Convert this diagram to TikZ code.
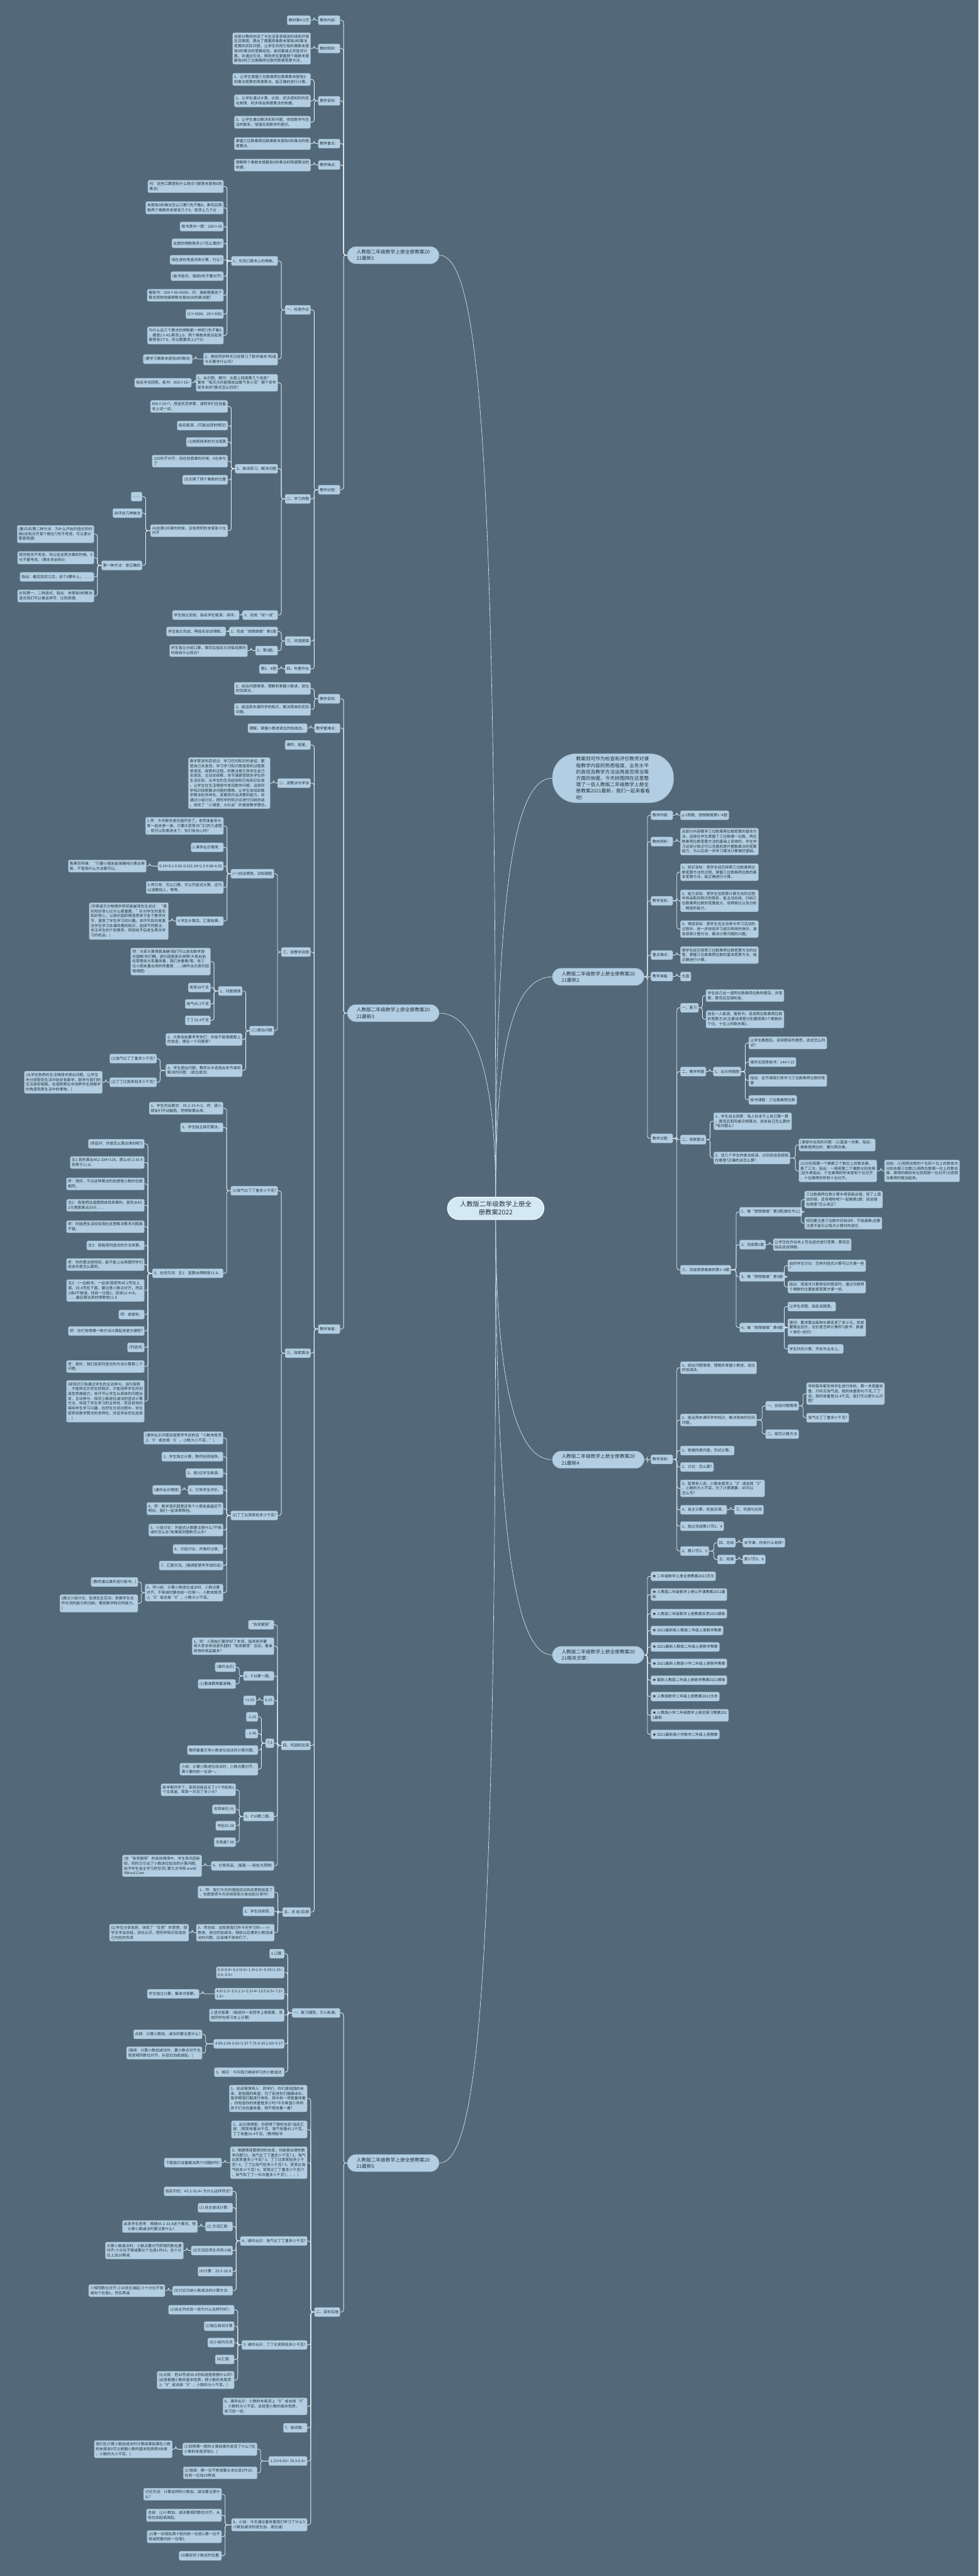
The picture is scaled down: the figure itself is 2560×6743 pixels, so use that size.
\documentclass[tikz,border=0pt]{standalone}
\usepackage{fontspec}
\newfontfamily\cjk{Noto Sans CJK SC}
\definecolor{bgcol}{HTML}{536979}
\definecolor{boxcol}{HTML}{B3CEE2}
\definecolor{edgecol}{HTML}{93B1C7}
\definecolor{txtcol}{HTML}{24323D}
\definecolor{linecol}{HTML}{E4EEF5}
\definecolor{rootcol}{HTML}{D3E9F4}
\begin{document}
\begin{tikzpicture}[x=1pt,y=-1pt,
  nd/.style={rectangle,rounded corners=3pt,fill=boxcol,draw=edgecol,line width=0.6pt,text=txtcol,align=left,
    inner xsep=4pt,inner ysep=5pt,minimum height=24pt,font=\cjk\fontsize{9.8}{12.7}\selectfont},
  lb/.style={nd,anchor=east},
  rb/.style={nd,anchor=west},
  topic/.style={nd,rounded corners=22pt,inner xsep=24pt,inner ysep=8pt,font=\cjk\fontsize{12.7}{17}\selectfont},
  root/.style={nd,fill=rootcol,draw=white,line width=1.5pt,rounded corners=30pt,align=center,
    inner xsep=33pt,inner ysep=11pt,font=\cjk\fontsize{17}{21}\selectfont},
  lnk/.style={draw=linecol,line width=1.4pt,rounded corners=6pt},
  clnk/.style={draw=linecol,line width=1pt}]
\fill[bgcol] (0,0) rectangle (2560,6743);
\useasboundingbox (0,0) rectangle (2560,6743);

% centre and main topics
\node[root] (ctr) at (1297,3163) {人教版二年级数学上册全\\册教案2022};
\node[topic,anchor=west,rounded corners=62pt,inner xsep=62pt,font=\cjk\fontsize{12.7}{16.8}\selectfont] (intro) at (1445,2037)
  {教案则可作为检查和评价教师对课\\程教学内容的熟悉程度、业务水平\\的高低及教学方法运用是否得当等\\方面的依据，今天树图网在这里整\\理了一些人教版二年级数学上册全\\册教案2021最新，我们一起来看看\\吧!};
\node[topic,anchor=east] (b1) at (1149,668) {人教版二年级数学上册全册教案20\\21最新1};
\node[topic,anchor=west] (b2) at (1445,2557) {人教版二年级数学上册全册教案20\\21最新2};
\node[topic,anchor=east] (b3) at (1149,2652) {人教版二年级数学上册全册教案20\\21最新3};
\node[topic,anchor=west] (b4) at (1445,3821) {人教版二年级数学上册全册教案20\\21最新4};
\node[topic,anchor=east] (b5) at (1149,5662) {人教版二年级数学上册全册教案20\\21最新5};
\node[topic,anchor=west] (b6) at (1445,4332) {人教版二年级数学上册全册教案20\\21相关文章：};

\draw[clnk] (ctr.north) .. controls +(0,-1900) and +(110,0) .. (b1.east);
\draw[clnk] (ctr.north) .. controls +(0,-300) and +(100,0) .. (b3.east);
\draw[clnk] (ctr.south) .. controls +(0,1900) and +(110,0) .. (b5.east);
\draw[clnk] (ctr.north) .. controls +(0,-800) and +(-100,0) .. (intro.west);
\draw[clnk] (ctr.north) .. controls +(0,-400) and +(-100,0) .. (b2.west);
\draw[clnk] (ctr.south) .. controls +(0,400) and +(-100,0) .. (b4.west);
\draw[clnk] (ctr.south) .. controls +(0,800) and +(-100,0) .. (b6.west);

% ---- branch 1
\node[lb] (b1a) at (890,53) {教学内容：};
\node[lb] (b1b) at (890,127) {教材简析：};
\node[lb] (b1c) at (890,264) {教学目标：};
\node[lb] (b1d) at (890,376) {教学重点：};
\node[lb] (b1e) at (890,432) {教学难点：};
\node[lb] (b1f) at (890,1282) {教学过程：};
\node[lb] (b1a1) at (813,53) {教材第4-5页};
\node[lb] (b1b1) at (813,127) {这部分教材创设了与生活息息相关的绿色环保\\生活情境，提出了需要用乘数末尾有0的乘法\\笔算的实际问题，让学生利用已有的乘数末尾\\有0的乘法的笔算经验，尝试着独立列竖式计\\算，并通过交流，帮助学生掌握两个乘数末尾\\都有0的三位数乘两位数的简便笔算方法。};
\node[lb] (b1c1) at (813,208) {1、让学生掌握三位数乘两位数乘数末尾有0\\的乘法笔算的简便算法，能正确的进行计算。};
\node[lb] (b1c2) at (813,264) {2、让学生通过计算、比较，初步感知积的变\\化规律，初步体会简便算法的依据。};
\node[lb] (b1c3) at (813,320) {3、让学生通过解决实际问题，体验数学与生\\活的联系，增强应用数学的意识。};
\node[lb] (b1d1) at (813,376) {掌握三位数乘两位数乘数末尾有0的乘法的简\\便算法。};
\node[lb] (b1e1) at (813,432) {理解两个乘数末尾都有0的乘法的简便算法的\\依据。};
\node[lb] (b1f1) at (813,811) {一、检查作业};
\node[lb] (b1f2) at (813,1306) {二、学习例题};
\node[lb] (b1f3) at (813,1678) {三、巩固提高};
\node[lb] (b1f4) at (813,1751) {四、布置作业};
\node[lb] (b1f1a) at (727,683) {1、交流口算本上的得数。};
\node[lb] (b1f1b) at (727,940) {2、哪些同学昨天已经预习了数学课本?知道\\今天要学什么吗?};
\node[lb] (b1f1a1) at (585,488) {问：这些口算题有什么特点?(都是末尾有0的\\乘法)};
\node[lb] (b1f1a2) at (585,544) {末尾有0的乘法怎么口算?(先不看0，乘完后再\\数两个乘数的末尾有几个0，就添上几个0)};
\node[lb] (b1f1a3) at (585,593) {板书其中一题：200×43};
\node[lb] (b1f1a4) at (585,637) {这题的得数是多少?怎么算的?};
\node[lb] (b1f1a5) at (585,680) {现在请你用竖式来计算，行么?};
\node[lb] (b1f1a6) at (585,723) {(板书竖式，强调0先不要对齐)};
\node[lb] (b1f1a7) at (585,773) {看板书：200×43=8600，问：谁能根据这个\\算式很快地编得数也是8600的乘法题?};
\node[lb] (b1f1a8) at (585,822) {(2×4300，20×430)};
\node[lb] (b1f1a9) at (585,878) {为什么这三个算式的得数都一样呢?(先不看0\\，都是2×43;再添上0，两个乘数末尾合起来\\都是有2个0，所以都要添上2个0)};
\node[lb] (b1f1b1) at (503,940) {(要学习乘数末尾有0的乘法)};
\node[lb] (b1f2a) at (727,1002) {1、出示图，提问：从图上知道哪几个信息?\\要求“每天大约能释放出氧气多少克”哪个条件\\是多余的?算式怎么列式?};
\node[lb] (b1f2b) at (727,1227) {2、尝试练习，解决问题};
\node[lb] (b1f2c) at (727,1610) {3、完成“试一试”};
\node[lb] (b1f2a1) at (501,1002) {指名学生回答，板书：850×15=};
\node[lb] (b1f2b1) at (596,1064) {850×15=?，用竖式怎样算，请同学们在自备\\本上试一试。};
\node[lb] (b1f2b2) at (596,1114) {指名板演，(可能出现的情况)};
\node[lb] (b1f2b3) at (596,1157) {(1)按照原来的方法笔算};
\node[lb] (b1f2b4) at (596,1207) {(2)0先不对齐，但在前面乘的时候，0也参与\\了};
\node[lb] (b1f2b5) at (596,1256) {(3)交换了两个乘数的位置};
\node[lb] (b1f2b6) at (596,1389) {(4)在第2步乘的时候，没有把积的末尾和十位\\对齐};
\node[lb] (b1f2b6a) at (372,1300) {……};
\node[lb] (b1f2b6b) at (372,1343) {讲评这几种做法};
\node[lb] (b1f2b6c) at (372,1480) {第一种方法：是正确的};
\node[lb] (b1f2b6c1) at (246,1398) {(重点讲)第二种方法：为什么开始列竖式的时\\候0没有对齐某个数位?(先不考虑，可以使计\\算更简便)};
\node[lb] (b1f2b6c2) at (246,1460) {既然是先不考虑，所以在这两次乘的时候，0\\也不要考虑。(擦去多余的0)};
\node[lb] (b1f2b6c3) at (246,1510) {指出：最后加完之后，这个0要补上。 ……};
\node[lb] (b1f2b6c4) at (246,1560) {比较第一、二种竖式，指出：末尾有0的乘法\\竖式我们可以像这样写，比较简便。};
\node[lb] (b1f2c1) at (626,1610) {学生独立完成，指名学生板演，讲评。};
\node[lb] (b1f3a) at (727,1653) {1、完成“想想做做”第1题};
\node[lb] (b1f3b) at (727,1703) {2、第3题。};
\node[lb] (b1f3a1) at (591,1653) {学生独立完成，再指名说说得数。};
\node[lb] (b1f3b1) at (648,1703) {学生独立分组口算，算完后指名交流每组算的\\时候有什么特点?};
\node[lb] (b1f4a) at (727,1751) {第2、4题};

% ---- branch 3
\node[lb] (b3a) at (890,1829) {教学目标：};
\node[lb] (b3b) at (890,1906) {教学重难点：};
\node[lb] (b3c) at (890,3479) {教学准备：};
\node[lb] (b3a1) at (813,1802) {1、结合问题情境，理解和掌握小数进、退位\\的加减法。};
\node[lb] (b3a2) at (813,1857) {2、能运用本课所学的知识，解决简单的实际\\问题。};
\node[lb] (b3b1) at (804,1906) {理解、掌握小数进退位的加减法。};
\node[lb] (b3c1) at (813,1950) {课件、星星。};
\node[lb] (b3c2) at (813,2050) {二、说教法与学法};
\node[lb] (b3c3) at (813,2492) {三、说教学流程};
\node[lb] (b3c4) at (813,3542) {三、探索算法};
\node[lb] (b3c5) at (813,4569) {四、巩固和应用};
\node[lb] (b3c6) at (813,5005) {五、总 结 回 顾};
\node[lb] (b3c2a) at (707,2050) {数学家波利亚说过：学习任何知识的途径，都\\是自己去发现。学习学习知识是接受的过程更\\是发现、探索的过程。的教法是引导学生自己\\去发现、主动去探索。本节课紧密联系学生的\\生活实际，从学生的生活经验和已有知识出发\\，让学生在生活情境中发现数学问题，运用所\\学知识探索解决问题的策略，让学生体验到数\\学算法的多样化，发展其作出决策的能力。并\\通过小组讨论，把所学的知识点进行归纳总结\\。体现了“小课堂，大社会”的课堂教学理念。};
\node[lb] (b3c3a) at (717,2287) {(一)创设情境，旧知铺垫};
\node[lb] (b3c3b) at (717,2698) {(二)提出问题};
\node[lb] (b3c3a1) at (585,2162) {1.师：今天数学游乐园开张了。老师准备带大\\家一起去游一游。只要大家答对门口的几道题\\，就可以免费进去了，你们有信心吗?};
\node[lb] (b3c3a2) at (585,2218) {2.课件出示情境：};
\node[lb] (b3c3a3) at (585,2267) {0.24+0.1 0.82-0.321.54+2.3 9.88-4.32};
\node[lb] (b3c3a4) at (585,2323) {3.师引导：可以口算，可以列竖式计算、还可\\以请教别人，等等。};
\node[lb] (b3c3a5) at (585,2411) {4.学生计算后、汇报结果。};
\node[lb] (b3c3a3a) at (383,2267) {售票员阿姨：“只要小朋友能准确地计算出得\\数，不管用什么方法都可以。};
\node[lb] (b3c3a5a) at (441,2411) {(华裔诺贝尔物理学获奖者崔琦先生说过：“喜\\欢和好奇心比什么都重要。”针对学生的喜欢\\和好奇心，以游乐园的情境贯穿于各个教学环\\节，激发了学生学习的兴趣。本环节目的是激\\活学生学习本课所需的知识，选择不同算法，\\关注学生的个别差异，特别给予后进生再次学\\习的机会。)};
\node[lb] (b3c3b1) at (634,2594) {1、问题情境};
\node[lb] (b3c3b2) at (634,2721) {2、大象伯伯要考考你们：你能不能根据图上\\的信息，提出一个问题呢?};
\node[lb] (b3c3b3) at (634,2802) {3、学生提出问题，教师从中选择出本节课将\\解决的问题：(退位减法)};
\node[lb] (b3c3b1a) at (551,2517) {师：大家计算得真准确!我们可以进去数学游\\乐园喽!你们瞧，游乐园里真乐闹啊!大象伯伯\\在那里给大家量体重，我们去看看!哦，有三\\位小朋友量出来的体重是……(课件出示游乐园\\情境图)};
\node[lb] (b3c3b1b) at (551,2585) {笑笑38千克};
\node[lb] (b3c3b1c) at (551,2628) {淘气45.2千克};
\node[lb] (b3c3b1d) at (551,2671) {丁丁33.4千克};
\node[lb] (b3c3b3a) at (410,2771) {(1)淘气比丁丁重多少千克?};
\node[lb] (b3c3b3b) at (410,2833) {(2)丁丁比笑笑轻多少千克?};
\node[lb] (b3c3b3b1) at (268,2833) {(从学生熟悉的生活情境中提出问题，让学生\\充分感受到生活中处处有数学，数学与我们的\\生活紧密相联。在潜移默化中培养学生用数学\\的角度观察生活中的事物。)};
\node[lb] (b3c4a) at (727,3117) {(1)淘气比丁丁重多少千克?};
\node[lb] (b3c4b) at (727,3967) {(2)丁丁比笑笑轻多少千克?};
\node[lb] (b3c4a1) at (584,2901) {1、学生列出算式：45.2-33.4=2、师：请小\\朋友们开动脑筋，把得数算出来。};
\node[lb] (b3c4a2) at (584,2951) {2、学生独立探究算法。};
\node[lb] (b3c4a3) at (584,3333) {3、全班交流：生1：我算出得数是11.8。};
\node[lb] (b3c4a3a) at (378,2994) {(师追问：你是怎么算出来的呢?)};
\node[lb] (b3c4a3b) at (378,3043) {生1:我先算出452-334=118，那么45.2-33.4\\就等于11.8。};
\node[lb] (b3c4a3c) at (378,3099) {师：很好，不过这种算法的前提是小数的位数\\相同。};
\node[lb] (b3c4a3d) at (378,3155) {生2：我是把这道题想成找来算的。我先从45.\\2元里面拿出33元……};
\node[lb] (b3c4a3e) at (378,3211) {师：你能把生活经验用在这里解决算术问题真\\不错。};
\node[lb] (b3c4a3f) at (378,3260) {生3：我能用列竖式的方法来算。};
\node[lb] (b3c4a3g) at (378,3310) {师：你的算法很特别，能不能上台来跟同学们\\说说你是怎么算的。};
\node[lb] (b3c4a3h) at (378,3378) {生3：(一边板书，一边讲)我把先45.2写在上\\面，33.4写在下面，要注意小数点对齐，然后\\2减4不够减，找前一位借1，变成12-4=8，\\……最后算出来的得数是11.8};
\node[lb] (b3c4a3i) at (378,3441) {师：谢谢你。};
\node[lb] (b3c4a3j) at (378,3484) {师：你们觉得哪一种方法计算起来更方便呢?};
\node[lb] (b3c4a3k) at (378,3527) {(列竖式)};
\node[lb] (b3c4a3l) at (378,3577) {师：那好，我们就用列竖式的方法计算第二个\\问题。};
\node[lb] (b3c4a3m) at (378,3668) {(新知识只有通过学生的主动参与，自行探索\\，才能转化为学生的知识，才能培养学生的创\\造性思维能力。本环节让学生从具体的问题出\\发，主动参与，探究小数退位减法的竖式计算\\方法，体现了学生学习的主体性，而且有效的\\保持学生学习兴趣，在师生交流过程中，学生\\感受到数学算法的多样化，并且学会优化选择\\。)};
\node[lb] (b3c4b1) at (584,3764) {(课件出示问题及智慧爷爷说的话“小数末尾添\\上‘0’或去掉‘0’，小数大小不变。”)};
\node[lb] (b3c4b2) at (584,3813) {1、学生独立计算，教师巡视指导。};
\node[lb] (b3c4b3) at (584,3856) {2、请2位学生板演。};
\node[lb] (b3c4b4) at (584,3900) {3、引导学生评价。};
\node[lb] (b3c4b5) at (584,3949) {4、师：数学游乐园里还有个小朋友晶晶还不\\明白，我们一起来帮帮他。};
\node[lb] (b3c4b6) at (584,4005) {5、小组讨论：列竖式计算要注意什么?不够\\减时怎么办?如果碰到整数怎么办?};
\node[lb] (b3c4b7) at (584,4055) {6、分组讨论，并做好记录。};
\node[lb] (b3c4b8) at (584,4098) {7、汇报交流。(强调智慧爷爷说的话)};
\node[lb] (b3c4b9) at (584,4169) {8、师小结：计算小数退位减法时，小数点要\\对齐，不够减时要向前一位借一。小数末尾添\\上“0”或去掉“0”，小数大小不变。};
\node[lb] (b3c4b4a) at (473,3900) {(课件出示情境)};
\node[lb] (b3c4b9a) at (361,4141) {(教师通过课件进行板书。)};
\node[lb] (b3c4b9b) at (361,4197) {(通过小组讨论，促进生生互动，发展学生合\\作交流的能力和归纳、概括数学知识的能力。\\)};
\node[lb] (b3c5a) at (717,4253) {“有奖解答”};
\node[lb] (b3c5b) at (717,4309) {1、师：小朋友们都学好了本领，接来老师要\\带大家去参加游乐园的“有奖解答”活动，看谁\\获得的奖品最多?};
\node[lb] (b3c5c) at (717,4387) {2、P16第一题。};
\node[lb] (b3c5d) at (717,4451) {8.25};
\node[lb] (b3c5e) at (717,4563) {7.3};
\node[lb] (b3c5f) at (717,4755) {3、P16第二题。};
\node[lb] (b3c5g) at (717,4884) {4、分发奖品。(星星——贴在光荣榜)};
\node[lb] (b3c5c1) at (617,4364) {(课件出示)};
\node[lb] (b3c5c2) at (617,4408) {(1)看谁算得最准确。};
\node[lb] (b3c5d1) at (670,4451) {+1.55};
\node[lb] (b3c5e1) at (675,4494) {-2.25};
\node[lb] (b3c5e2) at (675,4538) {- 2.45};
\node[lb] (b3c5e3) at (675,4581) {教师着重引导小数进位加法的计算问题。};
\node[lb] (b3c5e4) at (675,4631) {小结：计算小数进位加法时，小数点要对齐，\\满十要向前一位进一。};
\node[lb] (b3c5f1) at (617,4685) {新学期开学了，笑笑到商店买了1个书包和1\\个文具盒，笑笑一共花了多少元?};
\node[lb] (b3c5f2) at (617,4736) {名称单价/元};
\node[lb] (b3c5f3) at (617,4779) {书包32.50};
\node[lb] (b3c5f4) at (617,4822) {文具盒7.60};
\node[lb] (b3c5g1) at (528,4884) {(在“有奖解答”的具体情境中，学生既巩固新\\知，同时又引出了小数进位加法的计算问题。\\给予学生自主学习的空间) 第九文书网 wwW.\\9Word.Com};
\node[lb] (b3c6a) at (718,4953) {1、师：我们今天的游园活动到这里就结束了\\，你愿意把今天的收获和大象伯伯分享吗?};
\node[lb] (b3c6b) at (718,5003) {2、学生谈收获。};
\node[lb] (b3c6c) at (718,5059) {3、师总结：这就是我们所今天学习的——小\\数进、退位的加减法。相信以后遇到小数加减\\法的问题，应该难不倒你们了。};
\node[lb] (b3c6c1) at (494,5059) {(让学生分享收获，体现了“反思”的思想，使\\学生学会总结，深化认识，把所学知识变成自\\己内在的东西};

% ---- branch 5
\node[lb] (b5a) at (890,5269) {一、复习铺垫，引入新课。};
\node[lb] (b5b) at (890,6052) {二、目标实施};
\node[lb] (b5a1) at (744,5114) {1.口算.};
\node[lb] (b5a2) at (744,5163) {0.3+0.4= 0.2+0.6= 1.4+1.5= 0.33+1.25=\\0.9- 0.5=};
\node[lb] (b5a3) at (744,5219) {4.8+2.2= 3.5-2.1= 5.5+4= 19.5-0.5= 7.2+\\1.6=};
\node[lb] (b5a4) at (744,5275) {2.竖式板算：(每组叫一名同学上黑板算，其\\他同学在练习本上计算)};
\node[lb] (b5a5) at (744,5350) {4.89-2.64 3.61+1.37 7.75-6.35 2.82+3.17};
\node[lb] (b5a6) at (744,5424) {3、揭示：今天我们继续学习的小数减法.};
\node[lb] (b5a3a) at (521,5219) {学生独立计算，集体对答案。};
\node[lb] (b5a5a) at (529,5325) {点拨：计算小数加、减法时要注意什么?};
\node[lb] (b5a5b) at (529,5374) {(强调：计算小数加减法时，要小数点对齐也\\就是相同数位对齐，从低位加或减起。)};
\node[lb] (b5b1) at (804,5493) {1、创设情境导入：同学们，你们是祖国的未\\来、是祖国的希望，为了促进你们健康成长，\\每学期我们都进行体检，其中有一项是量体重\\。你知道你的体重是多少吗?今天希望小学的\\孩子们也在量体重，想不想去看一看?};
\node[lb] (b5b2) at (804,5574) {2、出示情境图：你获得了哪些信息?指名汇\\报：(笑笑体重38千克、淘气体重45.2千克、\\丁丁体重33.4千克。)教师板书};
\node[lb] (b5b3) at (804,5661) {3、根据情境图提供的信息，你能提出哪些数\\学问题?(1、淘气比丁丁重多少千克? 2、淘气\\比笑笑重多少千克? 3、丁丁比笑笑轻多少千\\克? 4、丁丁比淘气轻多少千克? 5、笑笑比淘\\气轻多少千克? 6、笑笑比丁丁重多少千克?7\\、淘气和丁丁一共共重多少千克?。。。)};
\node[lb] (b5b4) at (804,5866) {4、课件出示：淘气比丁丁重多少千克?};
\node[lb] (b5b5) at (804,6138) {5. 课件出示：丁丁比笑笑轻多少千克?};
\node[lb] (b5b6) at (804,6299) {6、课件出示：小数的末尾添上“0”或去掉“0”\\，小数的大小不变。这就是小数的基本性质，\\练习说一说。};
\node[lb] (b5b7) at (804,6355) {7、尝试做：};
\node[lb] (b5b8) at (804,6442) {1.25+6.05= 78.3-6.9=};
\node[lb] (b5b9) at (804,6609) {8、小结：今天通过量体重我们学习了什么?(\\小数加减法的进位加、退位减)};
\node[lb] (b5b3a) at (580,5661) {下面我们试着解决两个问题好吗?};
\node[lb] (b5b4a) at (609,5736) {指名列式：45.2-33.4= 为什么这样列式?};
\node[lb] (b5b4b) at (609,5779) {(1) 自主尝试计算：};
\node[lb] (b5b4c) at (609,5828) {(2) 交流汇报：};
\node[lb] (b5b4d) at (609,5891) {(3)交流后师生共同小结};
\node[lb] (b5b4e) at (609,5946) {(4)计算：23.5-16.8};
\node[lb] (b5b4f) at (609,5996) {(5)讨论归纳小数减法的计算方法：};
\node[lb] (b5b4c1) at (517,5828) {启发学生思考：根据45.2-33.4这个算式，想\\：计算小数减法时要注意什么?};
\node[lb] (b5b4d1) at (480,5891) {计算小数减法时，小数点要对齐即相同数位要\\对齐;十分位不够减要从个位退1作10，在十分\\位上加10再减.};
\node[lb] (b5b4f1) at (432,5996) {①相同数位对齐;②从低位减起;③十分位不够\\减向个位借1，然后再减.};
\node[lb] (b5b5a) at (613,6046) {(1)自主列式说一说为什么这样列式?。};
\node[lb] (b5b5b) at (613,6089) {(2)独立尝试计算};
\node[lb] (b5b5c) at (613,6132) {(3)小组内交流};
\node[lb] (b5b5d) at (613,6176) {(4)汇报：};
\node[lb] (b5b5e) at (613,6230) {(5)点拨：把38写成38.0你知道是根据什么吗?\\(这是根据小数的基本性质，即小数的末尾添\\上“0”或去掉“0”，小数的大小不变。)};
\node[lb] (b5b8a) at (673,6411) {(1)观察第一题的计算结果你发现了什么?(在\\小数的末尾添有0。)};
\node[lb] (b5b8b) at (673,6473) {(2)强调：哪一位不够减要从本位退1作10，\\在前一位加10再减.};
\node[lb] (b5b8a1) at (451,6411) {我们在计算小数加减法时计算结果如果在小数\\的末尾有0可以根据小数的基本性质把0去掉\\，小数的大小不变。)};
\node[lb] (b5b9a) at (580,6529) {讨论交流：计算这样的小数加、减法要注意什\\么?};
\node[lb] (b5b9b) at (580,6584) {总结：(1)小数加、减法要相同数位对齐，从\\低位加起或减起;};
\node[lb] (b5b9c) at (580,6640) {(2)哪一位相加满十就向前一位进1;哪一位不\\够减就要向前一位借1;};
\node[lb] (b5b9d) at (580,6690) {(3)确定好小数点的位置.};

% ---- branch 2
\node[rb] (b2a) at (1703,2134) {教学内容：};
\node[rb] (b2b) at (1703,2203) {教材简析：};
\node[rb] (b2c) at (1703,2358) {教学目标：};
\node[rb] (b2d) at (1703,2500) {重点难点：};
\node[rb] (b2e) at (1703,2556) {教学准备：};
\node[rb] (b2f) at (1703,2980) {教学过程：};
\node[rb] (b2a1) at (1780,2134) {p.1例题，想想做做第1\textasciitilde4题};
\node[rb] (b2b1) at (1780,2203) {这部分内容教学三位数乘两位数笔算的基本方\\法。这是在学生掌握了三位数乘一位数、两位\\数乘两位数笔算方法的基础上安排的，学生学\\习这部分知识可以完善和提升整数乘法的笔算\\能力，为以后进一步学习乘法计算做好基础。};
\node[rb] (b2c1) at (1780,2283) {1、知识目标：使学生经历探索三位数乘两位\\数笔算方法的过程，掌握三位数乘两位数的基\\本笔算方法，能正确进行计算。};
\node[rb] (b2c2) at (1780,2358) {2、能力目标：使学生在探索计算方法的过程\\中体会新旧知识的联系，能主动总结、归纳三\\位数乘两位数的笔算放大，培养类比以及分析\\、概括的能力。};
\node[rb] (b2c3) at (1780,2432) {3、情感目标：使学生在主动参与学习活动的\\过程中，进一步体验学习成功带来的快乐，激\\发探索计算方法、解决计算问题的兴趣。};
\node[rb] (b2d1) at (1780,2500) {使学生经历探索三位数乘两位数笔算方法的过\\程，掌握三位数乘两位数的基本笔算方法，能\\正确进行计算。};
\node[rb] (b2e1) at (1780,2556) {光盘};
\node[rb] (b2f1) at (1780,2638) {一、复习};
\node[rb] (b2f2) at (1780,2805) {二、教学例题};
\node[rb] (b2f3) at (1780,2983) {二、探索算法};
\node[rb] (b2f4) at (1780,3324) {三、完成想想做做的第1\textasciitilde4题};
\node[rb] (b2f1a) at (1847,2606) {学生自己出一道两位数乘两位数的题目，并笔\\算。算完后互相检查。};
\node[rb] (b2f1b) at (1847,2668) {指名一人板演，看板书，说说两位数乘两位数\\的笔算方法(主要说清楚分别要用第2个乘数的\\个位、十位上的数去乘)。};
\node[rb] (b2f2a) at (1866,2805) {1、出示例题图};
\node[rb] (b2f2a1) at (1959,2730) {让学生看图后，读读题目的意思，说说怎么列\\式?};
\node[rb] (b2f2a2) at (1959,2780) {随学生回答板书：144×15};
\node[rb] (b2f2a3) at (1959,2828) {指出：这节课我们来学习三位数乘两位数的笔\\算};
\node[rb] (b2f2a4) at (1959,2879) {板书课题：三位数乘两位数};
\node[rb] (b2f3a) at (1867,2935) {1、学生自主探索：每人在本子上自己算一算\\，算完后和同桌交换算法，说说自己怎么算的\\?有问题么?};
\node[rb] (b2f3b) at (1867,3031) {2、找几个学生的做法板演，分别说说各题错\\在哪里?正确的该怎么算?};
\node[rb] (b2f3b1) at (2090,2997) {[课堂中出现的问题：(1)直接一次乘，指出：\\乘数是两位的，要分两次乘。};
\node[rb] (b2f3b2) at (2090,3065) {(2)分别用第一个乘数三个数位上的数去乘，\\乘了三次，指出：一般用第二个乘数分别去乘\\]另外再指出：个位乘得的积末尾和个位对齐\\，十位乘得的积和十位对齐。};
\node[rb] (b2f3b2a) at (2314,3065) {总结：(1)用两位数的个位和十位上的数依次\\分别去乘三位数(2)用两位数哪一位上的数去\\乘，乘得的数的末位就和那一位对齐(3)把两\\次乘得的数加起来。};
\node[rb] (b2f4a) at (1935,3172) {1、做“想想做做”第2题(做在书上)};
\node[rb] (b2f4b) at (1935,3258) {2、完成第1题};
\node[rb] (b2f4c) at (1935,3342) {3、做“想想做做”第3题};
\node[rb] (b2f4d) at (1935,3475) {4、做“想想做做”第4题};
\node[rb] (b2f4a1) at (2105,3140) {三位数乘两位数计算中很容易出错，除了上面\\说的错，还有哪些呢?一起看第2题：说说错\\在哪里?怎么改正?};
\node[rb] (b2f4a2) at (2105,3202) {特别要注意三位数中间有0时，不能漏乘;还要\\注意不能忘记每次计算时的进位.};
\node[rb] (b2f4b1) at (2023,3258) {让学生在作业本上写出竖式进行笔算，算完后\\指名说说得数。};
\node[rb] (b2f4c1) at (2061,3313) {组织学生讨论：怎样列竖式计算可以方便一些\\?};
\node[rb] (b2f4c2) at (2061,3369) {指出：用竖式计算类似的题目时，通过交换两\\个乘数的位置能使笔算方便一些。};
\node[rb] (b2f4d1) at (2061,3420) {让学生读题，指名说题意。};
\node[rb] (b2f4d2) at (2061,3475) {提问：要求算出每种水果各卖了多少元，就是\\要算出总价，总价是怎样计算的?(板书：数量\\×单价=总价)};
\node[rb] (b2f4d3) at (2061,3531) {学生列式计算，写在作业本上。};

% ---- branch 4
\node[rb] (b4a) at (1703,3820) {教学目标：};
\node[rb] (b4a1) at (1780,3580) {1、结合问题情境，理解并掌握小数进、退位\\的加减法。};
\node[rb] (b4a2) at (1780,3717) {2、能运用本课所学的知识，解决简单的实际\\问题。};
\node[rb] (b4a3) at (1780,3797) {1、根据所提问题，列式计算。};
\node[rb] (b4a4) at (1780,3840) {2、讨论：怎么算?};
\node[rb] (b4a5) at (1780,3896) {3、智慧老人说，小数末尾添上“0”或去掉“0”\\，小数的大小不变。为了计算需要，45可以\\怎么写?};
\node[rb] (b4a6) at (1780,3952) {4、自主计算，检查反馈。};
\node[rb] (b4a7) at (1780,3995) {1、独立完成第17页1、4};
\node[rb] (b4a8) at (1780,4060) {2、第17页2、5};
\node[rb] (b4a2a) at (2003,3680) {一、创设问题情境};
\node[rb] (b4a2b) at (2003,3754) {二、探究计算方法};
\node[rb] (b4a2a1) at (2110,3648) {学校每年都安排学生进行体检，第一关是量体\\重，只听见淘气说，我的体重是45千克;丁丁\\说，我的体重是33.4千克。我们可以提什么问\\题?};
\node[rb] (b4a2a2) at (2110,3711) {淘气比丁丁重多少千克?};
\node[rb] (b4a6a) at (1921,3952) {三、巩固与应用};
\node[rb] (b4a8a) at (1877,4038) {四、总结};
\node[rb] (b4a8b) at (1877,4082) {五、拓展};
\node[rb] (b4a8a1) at (1943,4038) {本节课，你有什么收获?};
\node[rb] (b4a8b1) at (1943,4082) {第17页3、6};

% ---- branch 6
\node[rb] (b6a) at (1703,4126) {★ 二年级数学上册全册教案2021范文};
\node[rb] (b6b) at (1703,4174) {★ 人教版二年级数学上册公开课教案2021最\\新};
\node[rb] (b6c) at (1703,4224) {★ 人教版二年级数学上册教案反思2021模板};
\node[rb] (b6d) at (1703,4268) {★ 2021最新新人教版二年级上册数学教案};
\node[rb] (b6e) at (1703,4311) {★ 2021最新人教版二年级上册数学教案};
\node[rb] (b6f) at (1703,4354) {★ 2021最新人教版小学二年级上册数学教案};
\node[rb] (b6g) at (1703,4398) {★ 最新人教版二年级上册数学教案2021模板};
\node[rb] (b6h) at (1703,4441) {★ 人教版数学二年级上册教案2021文本};
\node[rb] (b6i) at (1703,4490) {★ 人教版小学二年级数学上册总复习教案202\\1最新};
\node[rb] (b6j) at (1703,4540) {★ 2021最新版小学数学二年级上册教案};

% links, left side
\foreach \p/\c in {b1/b1a,b1/b1b,b1/b1c,b1/b1d,b1/b1e,b1/b1f,
  b1a/b1a1,b1b/b1b1,b1c/b1c1,b1c/b1c2,b1c/b1c3,b1d/b1d1,b1e/b1e1,
  b1f/b1f1,b1f/b1f2,b1f/b1f3,b1f/b1f4,b1f1/b1f1a,b1f1/b1f1b,
  b1f1a/b1f1a1,b1f1a/b1f1a2,b1f1a/b1f1a3,b1f1a/b1f1a4,b1f1a/b1f1a5,b1f1a/b1f1a6,b1f1a/b1f1a7,b1f1a/b1f1a8,b1f1a/b1f1a9,
  b1f1b/b1f1b1,b1f2/b1f2a,b1f2/b1f2b,b1f2/b1f2c,b1f2a/b1f2a1,
  b1f2b/b1f2b1,b1f2b/b1f2b2,b1f2b/b1f2b3,b1f2b/b1f2b4,b1f2b/b1f2b5,b1f2b/b1f2b6,
  b1f2b6/b1f2b6a,b1f2b6/b1f2b6b,b1f2b6/b1f2b6c,
  b1f2b6c/b1f2b6c1,b1f2b6c/b1f2b6c2,b1f2b6c/b1f2b6c3,b1f2b6c/b1f2b6c4,
  b1f2c/b1f2c1,b1f3/b1f3a,b1f3/b1f3b,b1f3a/b1f3a1,b1f3b/b1f3b1,b1f4/b1f4a,
  b3/b3a,b3/b3b,b3/b3c,b3a/b3a1,b3a/b3a2,b3b/b3b1,
  b3c/b3c1,b3c/b3c2,b3c/b3c3,b3c/b3c4,b3c/b3c5,b3c/b3c6,b3c2/b3c2a,
  b3c3/b3c3a,b3c3/b3c3b,b3c3a/b3c3a1,b3c3a/b3c3a2,b3c3a/b3c3a3,b3c3a/b3c3a4,b3c3a/b3c3a5,
  b3c3a3/b3c3a3a,b3c3a5/b3c3a5a,b3c3b/b3c3b1,b3c3b/b3c3b2,b3c3b/b3c3b3,
  b3c3b1/b3c3b1a,b3c3b1/b3c3b1b,b3c3b1/b3c3b1c,b3c3b1/b3c3b1d,
  b3c3b3/b3c3b3a,b3c3b3/b3c3b3b,b3c3b3b/b3c3b3b1,
  b3c4/b3c4a,b3c4/b3c4b,b3c4a/b3c4a1,b3c4a/b3c4a2,b3c4a/b3c4a3,
  b3c4a3/b3c4a3a,b3c4a3/b3c4a3b,b3c4a3/b3c4a3c,b3c4a3/b3c4a3d,b3c4a3/b3c4a3e,b3c4a3/b3c4a3f,b3c4a3/b3c4a3g,
  b3c4a3/b3c4a3h,b3c4a3/b3c4a3i,b3c4a3/b3c4a3j,b3c4a3/b3c4a3k,b3c4a3/b3c4a3l,b3c4a3/b3c4a3m,
  b3c4b/b3c4b1,b3c4b/b3c4b2,b3c4b/b3c4b3,b3c4b/b3c4b4,b3c4b/b3c4b5,b3c4b/b3c4b6,b3c4b/b3c4b7,b3c4b/b3c4b8,b3c4b/b3c4b9,
  b3c4b4/b3c4b4a,b3c4b9/b3c4b9a,b3c4b9/b3c4b9b,
  b3c5/b3c5a,b3c5/b3c5b,b3c5/b3c5c,b3c5/b3c5d,b3c5/b3c5e,b3c5/b3c5f,b3c5/b3c5g,
  b3c5c/b3c5c1,b3c5c/b3c5c2,b3c5d/b3c5d1,b3c5e/b3c5e1,b3c5e/b3c5e2,b3c5e/b3c5e3,b3c5e/b3c5e4,
  b3c5f/b3c5f1,b3c5f/b3c5f2,b3c5f/b3c5f3,b3c5f/b3c5f4,b3c5g/b3c5g1,
  b3c6/b3c6a,b3c6/b3c6b,b3c6/b3c6c,b3c6c/b3c6c1,
  b5/b5a,b5/b5b,b5a/b5a1,b5a/b5a2,b5a/b5a3,b5a/b5a4,b5a/b5a5,b5a/b5a6,
  b5a3/b5a3a,b5a5/b5a5a,b5a5/b5a5b,
  b5b/b5b1,b5b/b5b2,b5b/b5b3,b5b/b5b4,b5b/b5b5,b5b/b5b6,b5b/b5b7,b5b/b5b8,b5b/b5b9,
  b5b3/b5b3a,b5b4/b5b4a,b5b4/b5b4b,b5b4/b5b4c,b5b4/b5b4d,b5b4/b5b4e,b5b4/b5b4f,
  b5b4c/b5b4c1,b5b4d/b5b4d1,b5b4f/b5b4f1,
  b5b5/b5b5a,b5b5/b5b5b,b5b5/b5b5c,b5b5/b5b5d,b5b5/b5b5e,
  b5b8/b5b8a,b5b8/b5b8b,b5b8a/b5b8a1,b5b9/b5b9a,b5b9/b5b9b,b5b9/b5b9c,b5b9/b5b9d}
  \draw[lnk] (\c.east) -- ++(9,0) |- (\p.west);

% links, right side
\foreach \p/\c in {b2/b2a,b2/b2b,b2/b2c,b2/b2d,b2/b2e,b2/b2f,
  b2a/b2a1,b2b/b2b1,b2c/b2c1,b2c/b2c2,b2c/b2c3,b2d/b2d1,b2e/b2e1,
  b2f/b2f1,b2f/b2f2,b2f/b2f3,b2f/b2f4,b2f1/b2f1a,b2f1/b2f1b,b2f2/b2f2a,
  b2f2a/b2f2a1,b2f2a/b2f2a2,b2f2a/b2f2a3,b2f2a/b2f2a4,
  b2f3/b2f3a,b2f3/b2f3b,b2f3b/b2f3b1,b2f3b/b2f3b2,b2f3b2/b2f3b2a,
  b2f4/b2f4a,b2f4/b2f4b,b2f4/b2f4c,b2f4/b2f4d,b2f4a/b2f4a1,b2f4a/b2f4a2,b2f4b/b2f4b1,
  b2f4c/b2f4c1,b2f4c/b2f4c2,b2f4d/b2f4d1,b2f4d/b2f4d2,b2f4d/b2f4d3,
  b4/b4a,b4a/b4a1,b4a/b4a2,b4a/b4a3,b4a/b4a4,b4a/b4a5,b4a/b4a6,b4a/b4a7,b4a/b4a8,
  b4a2/b4a2a,b4a2/b4a2b,b4a2a/b4a2a1,b4a2a/b4a2a2,b4a6/b4a6a,b4a8/b4a8a,b4a8/b4a8b,
  b4a8a/b4a8a1,b4a8b/b4a8b1,
  b6/b6a,b6/b6b,b6/b6c,b6/b6d,b6/b6e,b6/b6f,b6/b6g,b6/b6h,b6/b6i,b6/b6j}
  \draw[lnk] (\c.west) -- ++(-9,0) |- (\p.east);
\end{tikzpicture}
\end{document}
